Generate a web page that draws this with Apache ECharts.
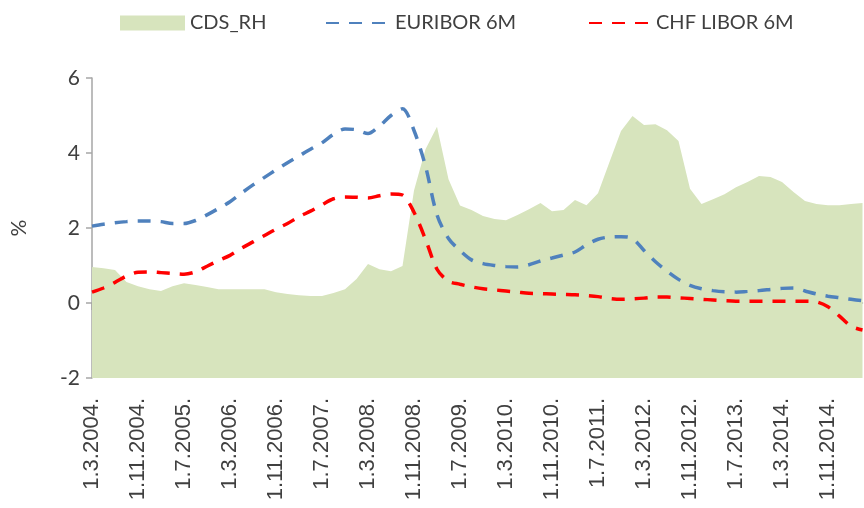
<!DOCTYPE html>
<html>
<head>
<meta charset="utf-8">
<script src="https://cdn.jsdelivr.net/npm/echarts@6/dist/echarts.min.js"></script>
<style>
  html, body { margin: 0; padding: 0; background: #fff; }
  #main { width: 864px; height: 508px; }
</style>
</head>
<body>
<div id="main"></div>
<script>
// dates, every second month from 1.3.2004.
var months = [];
for (var k = 0; k < 68; k++) {
  var m = 3 + k * 2;
  var yr = 2004 + Math.floor((m - 1) / 12);
  var mo = ((m - 1) % 12) + 1;
  months.push("1." + mo + "." + yr + ".");
}

var cdsRH = [
  0.96, 0.93, 0.88, 0.56, 0.45, 0.37, 0.32, 0.45, 0.53, 0.48,
  0.43, 0.37, 0.37, 0.37, 0.37, 0.37, 0.29, 0.24, 0.21, 0.19,
  0.19, 0.27, 0.37, 0.64, 1.04, 0.90, 0.85, 0.99, 3.00, 4.10,
  4.70, 3.30, 2.60, 2.48, 2.32, 2.24, 2.21, 2.35, 2.50, 2.67,
  2.45, 2.48, 2.75, 2.61, 2.93, 3.76, 4.59, 4.99, 4.75, 4.77,
  4.61, 4.32, 3.05, 2.64, 2.77, 2.90, 3.09, 3.23, 3.39, 3.36,
  3.23, 2.96, 2.72, 2.64, 2.61, 2.61, 2.64, 2.67
];

var euribor6m = [
  2.05, 2.10, 2.14, 2.17, 2.19, 2.19, 2.17, 2.12, 2.12, 2.20,
  2.35, 2.52, 2.70, 2.93, 3.15, 3.35, 3.55, 3.74, 3.92, 4.10,
  4.27, 4.50, 4.64, 4.62, 4.52, 4.72, 5.00, 5.18, 4.60, 3.65,
  2.35, 1.72, 1.40, 1.15, 1.05, 1.00, 0.97, 0.96, 1.02, 1.12,
  1.20, 1.28, 1.36, 1.55, 1.70, 1.76, 1.77, 1.72, 1.40, 1.10,
  0.85, 0.63, 0.47, 0.38, 0.33, 0.30, 0.29, 0.31, 0.33, 0.36,
  0.39, 0.40, 0.32, 0.24, 0.18, 0.14, 0.10, 0.06
];

var chfLibor6m = [
  0.29, 0.40, 0.55, 0.72, 0.82, 0.83, 0.81, 0.79, 0.77, 0.83,
  0.98, 1.13, 1.27, 1.46, 1.63, 1.80, 1.97, 2.12, 2.30, 2.45,
  2.62, 2.78, 2.83, 2.82, 2.80, 2.86, 2.91, 2.88, 2.42, 1.70,
  0.90, 0.58, 0.50, 0.43, 0.38, 0.35, 0.32, 0.29, 0.26, 0.25,
  0.24, 0.23, 0.22, 0.20, 0.17, 0.12, 0.10, 0.11, 0.13, 0.16,
  0.16, 0.14, 0.12, 0.10, 0.08, 0.06, 0.05, 0.05, 0.05, 0.05,
  0.05, 0.05, 0.05, 0.03, -0.10, -0.35, -0.62, -0.72
];

var yTicks = [-2, 0, 2, 4, 6];

var myChart = echarts.init(document.getElementById("main"));

var gray = "#a6a6a6";
var textColor = "#404040";

var legendText = {
  color: textColor,
  fontSize: 20,
  fontFamily: "Lato"
};

var option = {
  animation: false,
  legend: [
    {
      left: 115, top: 8, itemWidth: 65, itemHeight: 15, itemGap: 8,
      icon: "rect",
      textStyle: legendText,
      data: ["CDS_RH"]
    },
    {
      left: 320, top: 8, itemWidth: 64, itemHeight: 15,
      itemStyle: { opacity: 0 }, // hide the symbol, keep the dashed line
      textStyle: legendText,
      data: ["EURIBOR 6M"]
    },
    {
      left: 583, top: 8, itemWidth: 62, itemHeight: 15,
      itemStyle: { opacity: 0 },
      textStyle: legendText,
      data: ["CHF LIBOR 6M"]
    }
  ],
  grid: {
    left: 92,
    right: 1.5,
    top: 78,
    bottom: 130
  },
  xAxis: {
    type: "category",
    data: months,
    boundaryGap: false,
    axisLine: { lineStyle: { color: gray, width: 1.5 } },
    axisTick: { interval: 3, length: 7, lineStyle: { color: gray, width: 1.5 } },
    axisLabel: {
      interval: 3,
      rotate: 90,
      margin: 20,
      color: textColor,
      fontSize: 22,
      fontFamily: "Liberation Sans"
    },
    splitLine: { show: false }
  },
  yAxis: {
    type: "value",
    min: yTicks[0],
    max: yTicks[yTicks.length - 1],
    interval: 2,
    name: "%",
    nameLocation: "middle",
    nameRotate: 90,
    nameGap: 62,
    nameTextStyle: { color: textColor, fontSize: 21, fontFamily: "Lato" },
    axisLine: { show: true, lineStyle: { color: gray, width: 1.5 } },
    axisTick: { show: true, length: 6, lineStyle: { color: gray, width: 1.5 } },
    axisLabel: {
      margin: 12,
      color: textColor,
      fontSize: 21,
      fontFamily: "Lato"
    },
    splitLine: { show: false }
  },
  series: [
    {
      name: "CDS_RH",
      type: "line",
      data: cdsRH,
      symbol: "none",
      color: "#d7e4bd",
      lineStyle: { width: 0 },
      areaStyle: { color: "#d7e4bd", opacity: 1, origin: "start" },
      z: 1
    },
    {
      name: "EURIBOR 6M",
      type: "line",
      data: euribor6m,
      symbol: "none",
      smooth: 0.3,
      color: "#4f81bd",
      lineStyle: { width: 3.5, type: [13, 10], color: "#4f81bd" },
      z: 3
    },
    {
      name: "CHF LIBOR 6M",
      type: "line",
      data: chfLibor6m,
      symbol: "none",
      smooth: 0.3,
      color: "#ff0000",
      lineStyle: { width: 3.5, type: [13, 10], color: "#ff0000" },
      z: 4
    }
  ]
};

myChart.setOption(option);
</script>
</body>
</html>
